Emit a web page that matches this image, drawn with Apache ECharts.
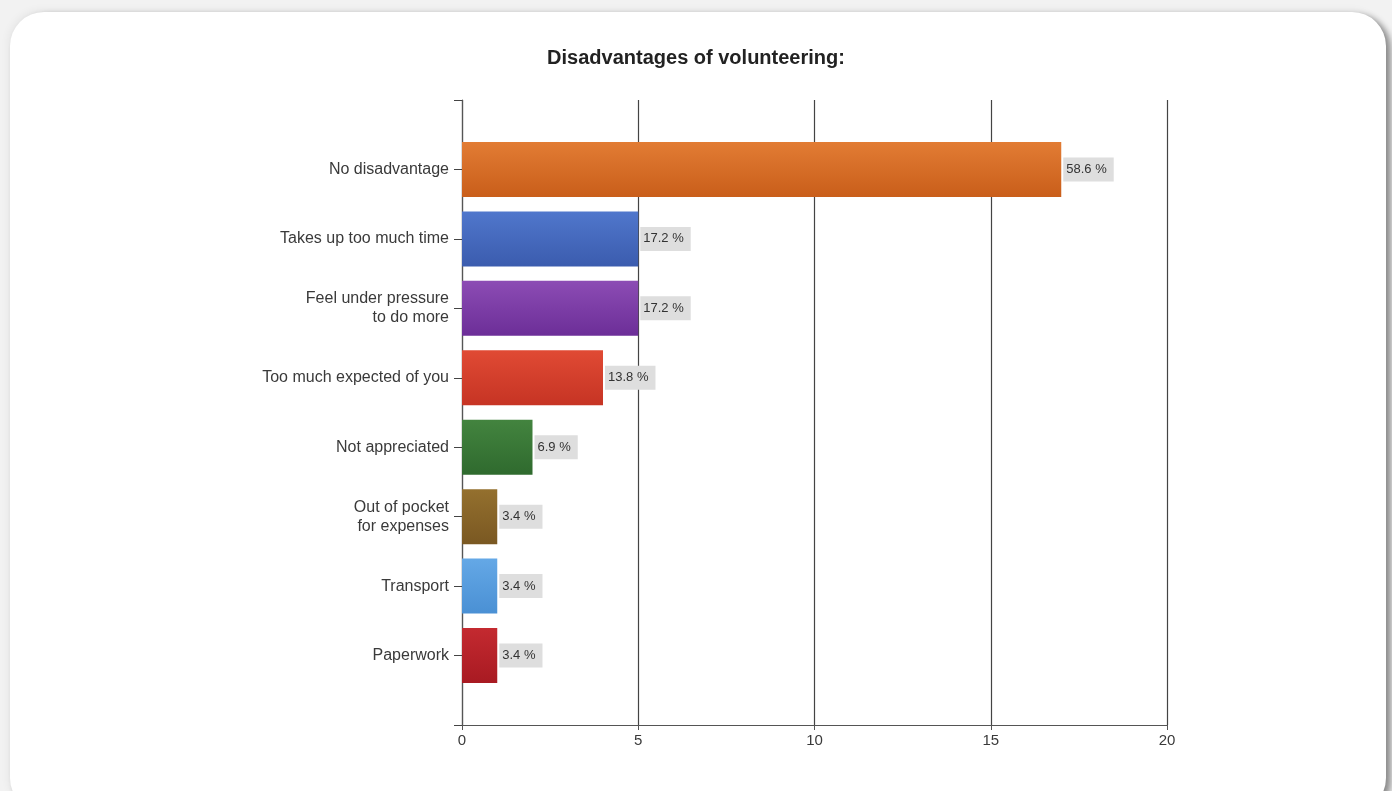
<!DOCTYPE html>
<html>
<head>
<meta charset="utf-8">
<title>Disadvantages of volunteering</title>
<script src="https://cdn.jsdelivr.net/npm/echarts@6/dist/echarts.min.js"></script>
<style>
  html, body { margin: 0; padding: 0; width: 1392px; height: 791px; overflow: hidden; background: #f2f2f2; }
  .card {
    position: absolute; left: 10px; top: 12px; width: 1376px; height: 800px;
    background: #ffffff; border-radius: 34px;
    box-shadow: 5px 3px 6px rgba(0,0,0,0.42), -2px -2px 8px rgba(0,0,0,0.05);
  }
  #chart { position: absolute; left: 0; top: 0; width: 1392px; height: 791px; }
</style>
</head>
<body>
<div class="card"></div>
<div id="chart"></div>
<script>
// Answers, top to bottom, with the number of respondents choosing each
const categories = [
  'No disadvantage',
  'Takes up too much time',
  'Feel under pressure\nto do more',
  'Too much expected of you',
  'Not appreciated',
  'Out of pocket\nfor expenses',
  'Transport',
  'Paperwork'
];
const counts = [17, 5, 5, 4, 2, 1, 1, 1];
const totalRespondents = 29;
const barColors = [
  ['#e27c34', '#c95e1a'],
  ['#5077cc', '#3b5cae'],
  ['#8c4cb4', '#6c2e98'],
  ['#e04a34', '#c63424'],
  ['#43843f', '#2f6a2e'],
  ['#94702e', '#7a5822'],
  ['#64a8e6', '#4a90d4'],
  ['#c42a30', '#a81a22']
];
const xTicks = [0, 5, 10, 15, 20];

// padded with empty slots so the axis runs half a step past the first and last bars
const yCategories = [''].concat(categories, ['']);
const barData = [null].concat(counts.map((v, i) => ({
  value: v,
  itemStyle: {
    color: {
      type: 'linear', x: 0, y: 0, x2: 0, y2: 1,
      colorStops: [
        { offset: 0, color: barColors[i][0] },
        { offset: 1, color: barColors[i][1] }
      ]
    }
  }
})), [null]);

const font = '"Liberation Sans", Arial, sans-serif';
const chart = echarts.init(document.getElementById('chart'), null, { renderer: 'canvas' });
chart.setOption({
  backgroundColor: 'transparent',
  animation: false,
  textStyle: { fontFamily: font },
  title: {
    text: 'Disadvantages of volunteering:',
    left: 'center',
    top: 43,
    textStyle: { fontSize: 20, fontWeight: 'bold', color: '#222', fontFamily: font }
  },
  grid: { left: 462, right: 225, top: 100, bottom: 66, containLabel: false },
  xAxis: {
    type: 'value',
    min: xTicks[0],
    max: xTicks[xTicks.length - 1],
    interval: 5,
    axisLine: { show: true, lineStyle: { color: '#555', width: 1.2 } },
    axisTick: { show: true, length: 5, lineStyle: { color: '#555' } },
    axisLabel: { color: '#3a3a3a', fontSize: 15, margin: 8 },
    splitLine: { show: true, lineStyle: { color: '#444', width: 1.2 } }
  },
  yAxis: {
    type: 'category',
    data: yCategories,
    inverse: true,
    boundaryGap: false,
    axisLine: { show: true, onZero: false, lineStyle: { color: '#555', width: 1.2 } },
    axisTick: { show: true, length: 8, inside: false, lineStyle: { color: '#444' } },
    axisLabel: { color: '#3a3a3a', fontSize: 16, margin: 13, lineHeight: 19, align: 'right' },
    splitLine: { show: false }
  },
  series: [{
    type: 'bar',
    data: barData,
    barWidth: 55,
    label: {
      show: true,
      position: 'right',
      distance: 2,
      formatter: p => (p.value / totalRespondents * 100).toFixed(1) + ' %',
      color: '#333',
      fontSize: 13,
      backgroundColor: '#dedede',
      padding: [6, 7, 5, 3]
    }
  }]
});
</script>
</body>
</html>
